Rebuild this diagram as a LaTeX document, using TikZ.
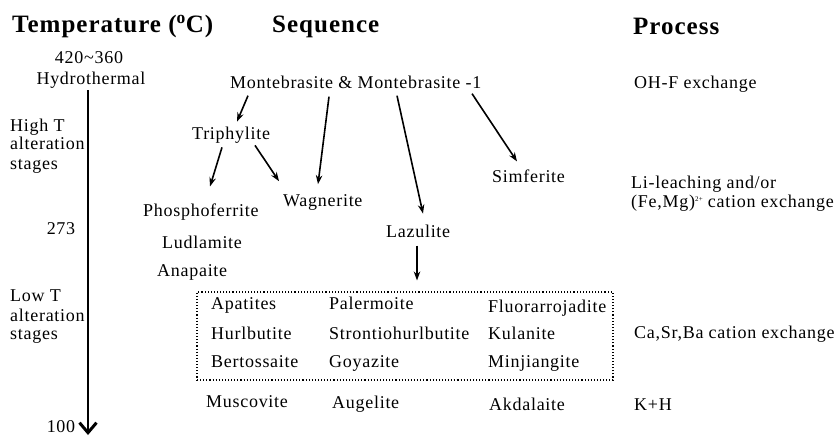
\documentclass[tikz,border=0pt]{standalone}
\usepackage{fontspec}
\setmainfont{Liberation Serif}[LetterSpace=4]
\usetikzlibrary{arrows.meta}
\tikzset{
  lbl/.style={inner sep=0pt, anchor=mid west, yshift=-4pt, font=\fontsize{18}{19}\selectfont},
  clbl/.style={inner sep=0pt, anchor=mid, yshift=-4pt, font=\fontsize{18}{19}\selectfont},
  hdr/.style={inner sep=0pt, anchor=mid west, yshift=-5pt, font=\fontsize{25}{27}\selectfont\bfseries},
  arr/.style={-{Stealth[length=9pt,width=6.5pt]}, line width=1.6pt},
  axis/.style={line width=2pt, -{Straight Barb[length=10pt,width=17pt,line width=3pt]}},
  groupbox/.style={draw, dotted, line width=1.1pt, inner sep=0pt, minimum width=416pt, minimum height=88pt}
}
\begin{document}
\begin{tikzpicture}[x=1pt,y=-1pt]
\useasboundingbox (0,0) rectangle (839,437);
% headers
\node[hdr] (hT) at (12,25) {Temperature (\textsuperscript{o}C)};
\node[hdr] (hS) at (272,25) {Sequence};
\node[hdr] (hP) at (633,27) {Process};
% temperature column
\node[clbl] (t420) at (89,57) {420\char`\~360};
\node[clbl] (hydro) at (91,78) {Hydrothermal};
\node[lbl] (hi1) at (10,125) {High T};
\node[lbl] (hi2) at (10,143) {alteration};
\node[lbl] (hi3) at (10,163) {stages};
\node[clbl] (t273) at (61,228) {273};
\node[lbl] (lo1) at (10,295) {Low T};
\node[lbl] (lo2) at (10,315) {alteration};
\node[lbl] (lo3) at (10,333) {stages};
\node[clbl] (t100) at (61,426.5) {100};
\coordinate (axend) at (88,435);
\draw[axis] ([shift={(-3,2)}]hydro.south) -- (axend);
% sequence
\node[lbl] (mont) at (230,82) {Montebrasite \& Montebrasite -1};
\node[lbl] (triph) at (192,133) {Triphylite};
\node[lbl] (phos) at (143,210) {Phosphoferrite};
\node[lbl] (ludl) at (162,242) {Ludlamite};
\node[lbl] (anap) at (157,270) {Anapaite};
\node[lbl] (wagn) at (283,200) {Wagnerite};
\node[lbl] (simf) at (492,176) {Simferite};
\node[lbl] (lazu) at (386,231) {Lazulite};
\node[groupbox] (box) at (405,336) {};
\node[lbl] (apat) at (211,303) {Apatites};
\node[lbl] (hurl) at (211,333) {Hurlbutite};
\node[lbl] (bert) at (211,361) {Bertossaite};
\node[lbl] (pale) at (329,303) {Palermoite};
\node[lbl] (stro) at (329,333) {Strontiohurlbutite};
\node[lbl] (goya) at (329,361) {Goyazite};
\node[lbl] (fluo) at (488,306) {Fluorarrojadite};
\node[lbl] (kula) at (488,333) {Kulanite};
\node[lbl] (minj) at (488,361) {Minjiangite};
\node[lbl] (musc) at (206,401) {Muscovite};
\node[lbl] (auge) at (332,402) {Augelite};
\node[lbl] (akda) at (489,404) {Akdalaite};
% process
\node[lbl] (p1) at (634,82) {OH-F exchange};
\node[lbl] (p2) at (631,182) {Li-leaching and/or};
\node[lbl] (p3) at (631,201) {(Fe,Mg)\raisebox{0.75ex}{\fontsize{7}{7}\selectfont 2+} cation exchange};
\node[lbl] (p4) at (634,332) {Ca,Sr,Ba cation exchange};
\node[lbl] (p5) at (634,404) {K+H};
% arrows
\draw[arr] ([shift={(18,7)}]mont.south west) -- ([shift={(45,-5)}]triph.north west);
\draw[arr] ([shift={(30,4)}]triph.south west) -- ([shift={(67,-17)}]phos.north west);
\draw[arr] ([shift={(63,2)}]triph.south west) -- ([shift={(-4,-13)}]wagn.north west);
\draw[arr] ([shift={(99,8)}]mont.south west) -- ([shift={(35,-10)}]wagn.north west);
\draw[arr] ([shift={(167,7)}]mont.south west) -- ([shift={(37,-11)}]lazu.north west);
\draw[arr] ([shift={(242,5)}]mont.south west) -- ([shift={(25,-8)}]simf.north west);
\draw[arr] ([shift={(31,8)}]lazu.south west) -- ([shift={(12,-11)}]box.north);
\end{tikzpicture}
\end{document}
